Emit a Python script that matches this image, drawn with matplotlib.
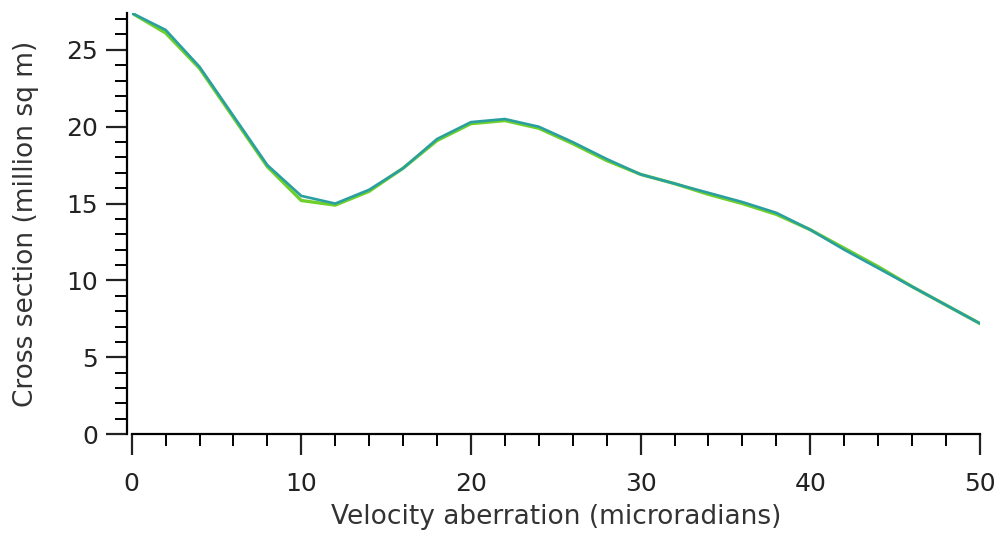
import matplotlib
matplotlib.use("Agg")
import matplotlib.pyplot as plt
from matplotlib.ticker import MultipleLocator

# velocidade de aberracao (microradianos)
aberracao = [0, 2, 4, 6, 8, 10, 12, 14, 16, 18, 20, 22, 24, 26, 28, 30,
             32, 34, 36, 38, 40, 42, 44, 46, 48, 50]

# duas curvas quase sobrepostas
secao_verde = [27.4, 26.1, 23.8, 20.6, 17.4, 15.2, 14.9, 15.8, 17.3, 19.1,
               20.2, 20.4, 19.9, 18.9, 17.8, 16.9, 16.3, 15.6, 15.0, 14.3,
               13.3, 12.1, 10.9, 9.6, 8.4, 7.2]
secao_azul = [27.4, 26.3, 23.9, 20.7, 17.5, 15.5, 15.0, 15.9, 17.3, 19.2,
              20.3, 20.5, 20.0, 19.0, 17.9, 16.9, 16.3, 15.7, 15.1, 14.4,
              13.3, 12.0, 10.8, 9.6, 8.4, 7.2]

figura = plt.figure(figsize=(10.05, 5.4), dpi=100)
eixo = figura.add_axes([0.131, 0.196, 0.844, 0.78])

eixo.plot(aberracao, secao_verde, color="#6fd02c", linewidth=2.4)
eixo.plot(aberracao, secao_azul, color="#2a9fa0", linewidth=1.9)

eixo.set_xlim(0, 50)
eixo.set_ylim(0, 27.4)

eixo.spines["top"].set_visible(False)
eixo.spines["right"].set_visible(False)
eixo.spines["left"].set_linewidth(1.6)
eixo.spines["bottom"].set_linewidth(1.6)
eixo.spines["left"].set_position(("outward", 3))

eixo.xaxis.set_major_locator(MultipleLocator(10))
eixo.xaxis.set_minor_locator(MultipleLocator(2))
eixo.yaxis.set_major_locator(MultipleLocator(5))
eixo.yaxis.set_minor_locator(MultipleLocator(1))

eixo.tick_params(which="major", direction="out", length=15, width=1.6,
                 labelsize=18, colors="#222222")
eixo.tick_params(axis="x", which="major", pad=12)
eixo.tick_params(axis="y", which="major", pad=6)
eixo.tick_params(which="minor", direction="out", length=8.5, width=1.4)

eixo.set_xlabel("Velocity aberration (microradians)", fontsize=19, color="#333333", labelpad=6)
eixo.set_ylabel("Cross section (million sq m)", fontsize=19, color="#333333", labelpad=20)

figura.savefig("out.png", dpi=100)
